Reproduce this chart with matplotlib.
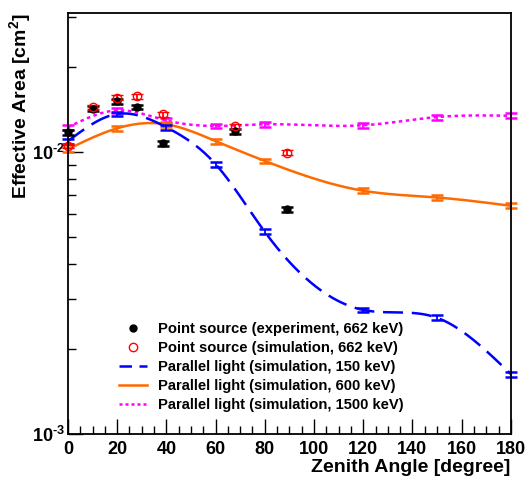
import numpy as np
import matplotlib
matplotlib.use("Agg")
import matplotlib.pyplot as plt
from matplotlib.lines import Line2D
from matplotlib.ticker import FixedLocator, NullFormatter

plt.rcParams['font.family'] = ['Liberation Sans', 'DejaVu Sans']
plt.rcParams['font.weight'] = 'bold'
plt.rcParams['mathtext.fontset'] = 'custom'
plt.rcParams['mathtext.rm'] = 'Liberation Sans:bold'
plt.rcParams['mathtext.bf'] = 'Liberation Sans:bold'
plt.rcParams['mathtext.default'] = 'bf'

# point source measurements (662 keV)
exp_angle = [0, 10, 20, 28, 38.5, 68, 89]
exp_area = [0.0117, 0.0142, 0.0151, 0.0144, 0.0107, 0.0118, 0.00626]
sim_area = [0.01047, 0.0144, 0.0155, 0.0157, 0.01356, 0.0123, 0.00992]

# parallel light simulations
par_angle = [0, 20, 40, 60, 80, 120, 150, 180]
par_150 = [0.0109, 0.0136, 0.0122, 0.00903, 0.0052, 0.00275, 0.00258, 0.00163]
par_600 = [0.0102, 0.0121, 0.0125, 0.0109, 0.00927, 0.00727, 0.00688, 0.00643]
par_1500 = [0.0122, 0.0140, 0.0129, 0.01233, 0.0125, 0.0124, 0.01326, 0.0134]

rel_err = 0.02


def spline(x, y, xs):
    # natural cubic spline, done in log space like the smoothed graph
    x = np.asarray(x, float)
    y = np.log10(np.asarray(y, float))
    n = len(x)
    h = np.diff(x)
    A = np.zeros((n, n))
    b = np.zeros(n)
    A[0, 0] = A[-1, -1] = 1
    for i in range(1, n - 1):
        A[i, i - 1] = h[i - 1]
        A[i, i] = 2 * (h[i - 1] + h[i])
        A[i, i + 1] = h[i]
        b[i] = 6 * ((y[i + 1] - y[i]) / h[i] - (y[i] - y[i - 1]) / h[i - 1])
    m = np.linalg.solve(A, b)
    k = np.clip(np.searchsorted(x, xs) - 1, 0, n - 2)
    t = xs - x[k]
    hk = h[k]
    a = y[k]
    bb = (y[k + 1] - y[k]) / hk - hk * (2 * m[k] + m[k + 1]) / 6
    c = m[k] / 2
    d = (m[k + 1] - m[k]) / (6 * hk)
    return 10 ** (a + bb * t + c * t ** 2 + d * t ** 3)


fig = plt.figure(figsize=(5.31, 4.79), dpi=100)
ax = fig.add_axes([0.128, 0.094, 0.834, 0.879])

blue, orange, magenta = '#0000ff', '#ff6a00', '#ff00ff'
xs = np.linspace(0, 180, 400)
series = [
    (par_1500, magenta, (0, (1.4, 1.4))),
    (par_600, orange, '-'),
    (par_150, blue, (0, (8, 3.5))),
]
for vals, col, ls in series:
    ax.plot(xs, spline(par_angle, vals, xs), color=col, ls=ls, lw=1.8)
    ax.errorbar(par_angle, vals, yerr=np.array(vals) * rel_err, fmt='none',
                ecolor=col, elinewidth=1.3, capsize=4.5, capthick=1.8, clip_on=False)

ax.errorbar(exp_angle, exp_area, yerr=np.array(exp_area) * rel_err, fmt='o',
            color='black', ms=5, elinewidth=1.3, capsize=4.5, capthick=1.8, clip_on=False)
ax.errorbar(exp_angle, sim_area, yerr=np.array(sim_area) * rel_err, fmt='o',
            mfc='none', mec='red', ecolor='red', ms=6, mew=1.0,
            elinewidth=1.3, capsize=4.5, capthick=1.8, clip_on=False)

ax.set_yscale('log')
ax.set_xlim(0, 180)
ax.set_ylim(1e-3, 0.0310)

ax.xaxis.set_major_locator(FixedLocator(np.arange(0, 181, 20)))
ax.xaxis.set_minor_locator(FixedLocator(np.arange(0, 181, 5)))
ax.yaxis.set_major_locator(FixedLocator([1e-3, 1e-2]))
ax.yaxis.set_minor_locator(FixedLocator([k * 1e-3 for k in range(2, 10)] + [2e-2, 3e-2]))
ax.yaxis.set_minor_formatter(NullFormatter())
ax.set_yticklabels(['10$^{\\text{-}3}$', '10$^{\\text{-}2}$'])
ax.tick_params(which='both', direction='in', top=False, right=False, labelsize=13)
ax.tick_params(which='major', length=11, width=1)
ax.tick_params(which='minor', length=6, width=1)
ax.tick_params(axis='x', pad=5)
ax.tick_params(axis='y', pad=2)
for s in ax.spines.values():
    s.set_linewidth(1.3)

ax.set_xlabel('Zenith Angle [degree]', fontsize=14, fontweight='bold', loc='right', labelpad=1)
ax.set_ylabel('Effective Area [cm$^2$]', fontsize=14, fontweight='bold', ha='right')
ax.yaxis.set_label_coords(-0.079, 1.0)

handles = [
    Line2D([], [], color='black', marker='o', ls='none', ms=5),
    Line2D([], [], color='red', marker='o', mfc='none', ls='none', ms=6, mew=1.0),
    Line2D([], [], color=blue, ls=(0, (5, 3)), lw=1.8),
    Line2D([], [], color=orange, ls='-', lw=1.8),
    Line2D([], [], color=magenta, ls=(0, (1.2, 1.2)), lw=1.8),
]
labels = [
    'Point source (experiment, 662 keV)',
    'Point source (simulation, 662 keV)',
    'Parallel light (simulation, 150 keV)',
    'Parallel light (simulation, 600 keV)',
    'Parallel light (simulation, 1500 keV)',
]
ax.legend(handles, labels, loc='upper left', bbox_to_anchor=(0.086, 0.297), frameon=False,
          prop={'weight': 'bold', 'size': 10.6}, handlelength=1.9, labelspacing=0.34,
          handletextpad=0.7)

fig.savefig('out.png', dpi=100)
